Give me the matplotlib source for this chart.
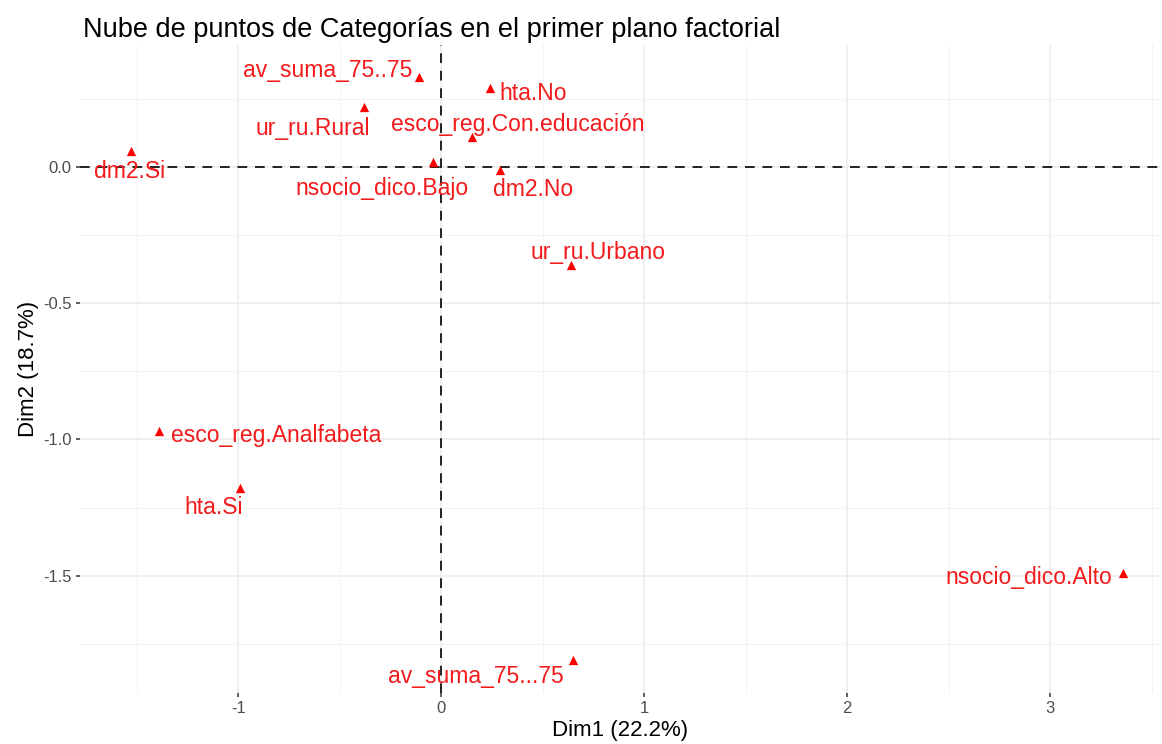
import matplotlib
matplotlib.use('Agg')
import matplotlib.pyplot as plt
from matplotlib.ticker import MultipleLocator

plt.rcParams['font.family'] = ['Liberation Sans', 'DejaVu Sans']
plt.rcParams['axes.unicode_minus'] = False

# categories and their coordinates in the first factorial plane
categorias = ['dm2.Si', 'av_suma_75..75', 'hta.No', 'ur_ru.Rural', 'esco_reg.Con.educación',
              'nsocio_dico.Bajo', 'dm2.No', 'ur_ru.Urbano', 'esco_reg.Analfabeta', 'hta.Si',
              'nsocio_dico.Alto', 'av_suma_75...75']
dim1 = [-1.53, -0.11, 0.24, -0.38, 0.15, -0.04, 0.29, 0.64, -1.39, -0.99, 3.36, 0.65]
dim2 = [0.06, 0.33, 0.29, 0.22, 0.11, 0.02, -0.01, -0.36, -0.97, -1.18, -1.49, -1.81]

# label offsets (points) emulating ggrepel placement
offsets = [(-1, -15), (-66, 5), (31, -4), (-37, -15), (33, 9), (-37, -19), (24, -14),
           (19, 9), (84, -3), (-19, -14), (-68, -3), (-70, -12)]

fig = plt.figure(figsize=(11.62, 7.44), dpi=100)
ax = fig.add_axes([0.069, 0.069, 0.929, 0.871])

ax.set_xlim(-1.78, 3.54)
ax.set_ylim(-1.93, 0.45)
ax.xaxis.set_major_locator(MultipleLocator(1))
ax.xaxis.set_minor_locator(MultipleLocator(0.5))
ax.yaxis.set_major_locator(MultipleLocator(0.5))
ax.yaxis.set_minor_locator(MultipleLocator(0.25))
ax.yaxis.set_major_formatter(lambda v, p: f'{v:.1f}')
ax.grid(True, which='major', color='#EBEBEB', linewidth=1.1)
ax.grid(True, which='minor', color='#F2F2F2', linewidth=0.7)
ax.set_axisbelow(True)
for s in ax.spines.values():
    s.set_visible(False)
ax.tick_params(which='major', length=3, width=1.1, color='#333333',
               labelcolor='#4D4D4D', labelsize=12, pad=3)
ax.tick_params(which='minor', length=0)

ax.axhline(0, color='#222222', linestyle=(0, (5, 4)), linewidth=1.4)
ax.axvline(0, color='#222222', linestyle=(0, (5, 4)), linewidth=1.4)

ax.scatter(dim1, dim2, marker='^', s=45, color='red', zorder=3, linewidths=0)
for lab, x, y, (dx, dy) in zip(categorias, dim1, dim2, offsets):
    ax.annotate(lab, (x, y), xytext=(dx, dy), textcoords='offset points',
                ha='center', va='center', color='#F21A1A', fontsize=16.5, zorder=4)

ax.set_xlabel('Dim1 (22.2%)', fontsize=16, labelpad=3)
ax.set_ylabel('Dim2 (18.7%)', fontsize=16, labelpad=3)
fig.text(0.071, 0.96, 'Nube de puntos de Categorías en el primer plano factorial',
         fontsize=19.5, ha='left', va='center')

fig.savefig('out.png', dpi=100)
